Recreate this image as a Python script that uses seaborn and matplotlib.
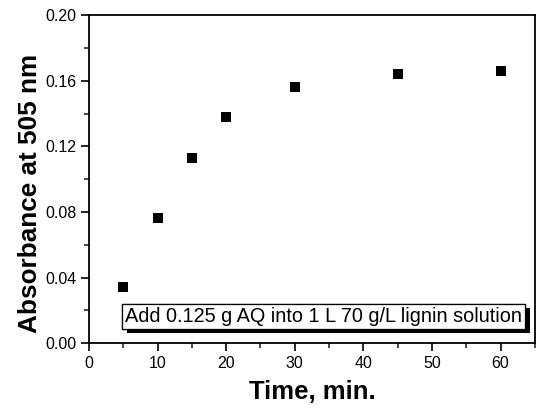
import matplotlib
matplotlib.use("Agg")
import matplotlib.pyplot as plt
import matplotlib.patheffects as pe
from matplotlib.ticker import MultipleLocator, FormatStrFormatter
import seaborn as sns

# Absorbance readings over time
time_min = [5, 10, 15, 20, 30, 45, 60]
absorbance = [0.034, 0.076, 0.113, 0.138, 0.156, 0.164, 0.166]

sns.set_style("ticks")
plt.rcParams['font.family'] = ['Liberation Sans', 'DejaVu Sans']

fig = plt.figure(figsize=(5.36, 4.08), dpi=100)
ax = fig.add_axes([0.166, 0.159, 0.832, 0.804])

sns.scatterplot(x=time_min, y=absorbance, marker='s', color='black',
                s=55, edgecolor='black', linewidth=0, ax=ax, zorder=3)

ax.set_xlim(0, 65)
ax.set_ylim(0, 0.20)
ax.xaxis.set_major_locator(MultipleLocator(10))
ax.xaxis.set_minor_locator(MultipleLocator(5))
ax.yaxis.set_major_locator(MultipleLocator(0.04))
ax.yaxis.set_minor_locator(MultipleLocator(0.02))
ax.yaxis.set_major_formatter(FormatStrFormatter('%.2f'))
ax.tick_params(which='major', direction='out', length=6, width=1.2,
               labelsize=11.5, colors='black', pad=3)
ax.tick_params(which='minor', direction='out', length=3.5, width=1.2)
for sp in ax.spines.values():
    sp.set_visible(True)
    sp.set_linewidth(1.3)
    sp.set_color('black')

ax.set_xlabel('Time, min.', fontsize=18.5, fontweight='bold', labelpad=7, color='black')
ax.set_ylabel('Absorbance at 505 nm', fontsize=18.8, fontweight='bold', color='black')
ax.yaxis.set_label_coords(-0.105, 0.455)

t = ax.text(5.3, 0.0105, 'Add 0.125 g AQ into 1 L 70 g/L lignin solution',
            fontsize=14.3, ha='left', va='bottom', color='black',
            bbox=dict(boxstyle='square,pad=0.15', facecolor='white',
                      edgecolor='black', linewidth=0.9))
t.get_bbox_patch().set_path_effects([
    pe.withSimplePatchShadow(offset=(3.5, -3), shadow_rgbFace='black', alpha=1.0),
    pe.Normal()])

fig.savefig('out.png', dpi=100)
